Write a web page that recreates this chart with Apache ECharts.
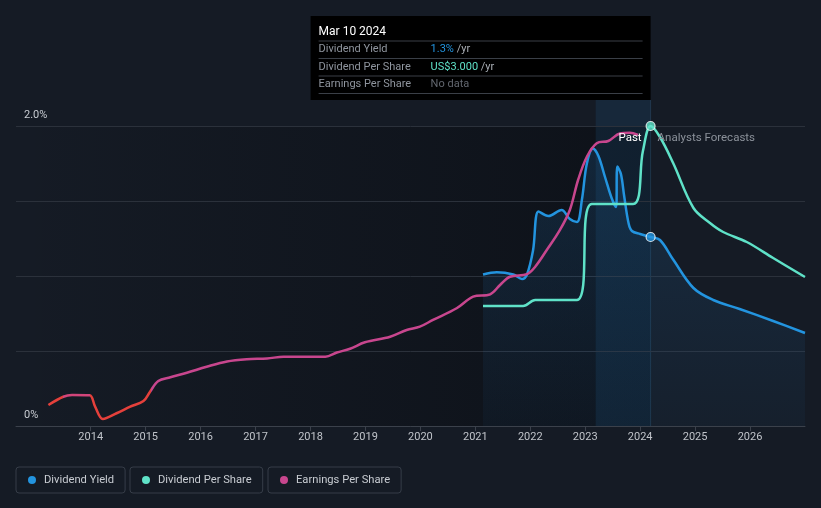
<!DOCTYPE html>
<html>
<head>
<meta charset="utf-8">
<script src="https://cdn.jsdelivr.net/npm/echarts@6/dist/echarts.min.js"></script>
<style>
html,body{margin:0;padding:0;background:#151b25;}
#c{width:821px;height:508px;}
</style>
</head>
<body>
<div id="c"></div>
<script>
// ---- data (decimal years) ----
const yearTicks = [2014,2015,2016,2017,2018,2019,2020,2021,2022,2023,2024,2025,2026];
const dividendYield = [[2021.14,1.01],[2021.39,1.025],[2021.69,1.01],[2021.85,0.98],[2021.94,1.01],[2022.05,1.17],[2022.15,1.43],[2022.33,1.40],[2022.57,1.44],[2022.72,1.38],[2022.85,1.36],[2022.94,1.51],[2023.03,1.75],[2023.14,1.85],[2023.24,1.80],[2023.36,1.66],[2023.48,1.52],[2023.56,1.46],[2023.585,1.73],[2023.65,1.68],[2023.71,1.53],[2023.79,1.35],[2023.85,1.30],[2024.0,1.28],[2024.19,1.26],[2024.36,1.24],[2024.60,1.11],[2024.97,0.92],[2025.33,0.84],[2025.81,0.78],[2026.42,0.70],[2027.0,0.62]];
const dividendPerShare = [[2021.14,1.20],[2021.87,1.20],[2022.09,1.26],[2022.85,1.26],[2023.12,2.22],[2023.87,2.22],[2024.05,2.75],[2024.19,3.0],[2024.36,2.89],[2024.60,2.63],[2024.97,2.18],[2025.27,2.03],[2025.51,1.94],[2025.94,1.84],[2026.42,1.68],[2027.0,1.49]];
const earningsPerShare = [[2013.23,0.14],[2013.50,0.195],[2013.66,0.207],[2013.98,0.205],[2014.08,0.129],[2014.22,0.047],[2014.47,0.085],[2014.72,0.129],[2014.96,0.167],[2015.08,0.229],[2015.23,0.30],[2015.45,0.325],[2015.75,0.355],[2016.11,0.395],[2016.48,0.43],[2016.84,0.445],[2017.21,0.45],[2017.51,0.462],[2017.93,0.462],[2018.27,0.462],[2018.48,0.49],[2018.72,0.515],[2018.99,0.558],[2019.45,0.595],[2019.75,0.64],[2019.99,0.662],[2020.23,0.707],[2020.66,0.785],[2020.96,0.862],[2021.27,0.878],[2021.45,0.94],[2021.63,0.995],[2021.94,1.013],[2022.09,1.062],[2022.30,1.173],[2022.54,1.307],[2022.72,1.44],[2022.87,1.64],[2023.03,1.795],[2023.21,1.885],[2023.42,1.90],[2023.63,1.95],[2023.81,1.955],[2023.96,1.94]];
const hoverYear = 2024.19;
const bandStart = 2023.19;
const tipDate = 'Mar 10 2024';
const tipYield = '1.3%';
const tipDps = 'US$3.000';

const C_YIELD = '#2394df', C_DPS = '#5fe2c8', C_EPS = '#c8468e', C_RED = '#e5403b';
const FONT = 'Roboto, "Noto Sans", sans-serif';

const chart = echarts.init(document.getElementById('c'), null, {renderer:'canvas'});
const legendBase = {
  orient:'horizontal', top:467, icon:'circle', itemWidth:8, itemHeight:8, itemGap:0,
  padding:[6,11,6,12], borderColor:'#363d48', borderWidth:1, borderRadius:3,
  selectedMode:false,
  textStyle:{color:'#c8ccd2', fontSize:11.2, fontFamily:FONT, lineHeight:14, padding:[0,0,0,3]}
};
chart.setOption({
  backgroundColor:'#151b25',
  animation:false,
  grid:{left:16, right:16, top:126, bottom:82, containLabel:false},
  xAxis:{type:'value', min:2012.64, max:2027.0,
    axisLine:{lineStyle:{color:'#3b414b'}},
    axisTick:{show:true, customValues:yearTicks, length:5, lineStyle:{color:'#3b414b'}},
    axisLabel:{customValues:yearTicks, color:'#c0c4ca', fontSize:11, fontFamily:FONT, margin:6, formatter:v=>String(Math.round(v))},
    splitLine:{show:false}},
  yAxis:[
    {type:'value', min:0, max:2, interval:0.5,
      axisLine:{show:false}, axisTick:{show:false},
      splitLine:{lineStyle:{color:'#2b313b', width:1}},
      axisLabel:{inside:true, margin:8, verticalAlign:'bottom', padding:[0,0,5,0], color:'#c8ccd2', fontSize:11, fontFamily:FONT,
        formatter:v=> v===0 ? '0%' : (Math.abs(v-2)<1e-9 ? '2.0%' : '')}},
    {type:'value', min:0, max:3, show:false},
    {type:'value', min:0, max:2, show:false}
  ],
  legend:[
    Object.assign({}, legendBase, {left:16, data:['Dividend Yield']}),
    Object.assign({}, legendBase, {left:130, data:['Dividend Per Share']}),
    Object.assign({}, legendBase, {left:268, data:['Earnings Per Share']})
  ],
  visualMap:{show:false, type:'piecewise', seriesIndex:2, dimension:0,
    pieces:[{lt:2013.5, color:C_RED},{gte:2013.5, lt:2013.98, color:'#d2457a'},{gte:2013.98, lt:2015.1, color:C_RED},{gte:2015.1, color:C_EPS}]},
  series:[
    {name:'Dividend Yield', type:'line', yAxisIndex:0, data:dividendYield, smooth:0.35, symbol:'none', clip:false,
      lineStyle:{color:C_YIELD, width:2.5}, itemStyle:{color:C_YIELD},
      areaStyle:{color:new echarts.graphic.LinearGradient(0,0,0,1,[{offset:0,color:'rgba(36,120,190,0.28)'},{offset:1,color:'rgba(36,120,190,0.07)'}])}, z:3},
    {name:'Dividend Per Share', type:'line', yAxisIndex:1, data:dividendPerShare, smooth:0.35, symbol:'none', clip:false,
      lineStyle:{color:C_DPS, width:2.5}, itemStyle:{color:C_DPS}, z:4},
    {name:'Earnings Per Share', type:'line', yAxisIndex:2, data:earningsPerShare, smooth:0.35, symbol:'none', clip:false,
      lineStyle:{width:2.5}, itemStyle:{color:C_EPS}, z:3},
    {type:'scatter', yAxisIndex:0, data:[[hoverYear, dividendYield.find(d=>d[0]===hoverYear)[1]]], symbolSize:9, clip:false,
      itemStyle:{color:C_YIELD, borderColor:'#ffffff', borderWidth:1.2}, z:6, silent:true},
    {type:'scatter', yAxisIndex:1, data:[[hoverYear, dividendPerShare.find(d=>d[0]===hoverYear)[1]]], symbolSize:9, clip:false,
      itemStyle:{color:C_DPS, borderColor:'#ffffff', borderWidth:1.2}, z:6, silent:true}
  ]
});

// overlays positioned through the axes
const px = v => chart.convertToPixel({xAxisIndex:0}, v);
const py = v => chart.convertToPixel({yAxisIndex:0}, v);
const xLeft = px(2012.64), xHover = px(hoverYear), xBand = px(bandStart);
const yTop = py(2), yBot = py(0);
const tipTop = 16, tipBottom = 100, tipW = 340;
const tipL = xHover - tipW;
const rowY = [31.5, 49.5, 67, 84.5];
const sepY = [41, 58.5, 76, 93.5];
const g = [];
g.push({type:'rect', z:-10, silent:true, shape:{x:xLeft, y:yTop, width:xHover-xLeft, height:yBot-yTop},
  style:{fill:new echarts.graphic.LinearGradient(0,0,1,0,[{offset:0,color:'rgba(4,6,10,0)'},{offset:1,color:'rgba(4,6,10,0.45)'}])}});
g.push({type:'rect', z:-5, silent:true, shape:{x:xBand, y:tipBottom, width:xHover-xBand, height:yBot-tipBottom},
  style:{fill:'rgba(35,130,200,0.13)'}});
g.push({type:'line', z:-4, silent:true, shape:{x1:xHover, y1:tipBottom, x2:xHover, y2:yBot},
  style:{stroke:'rgba(60,110,150,0.3)', lineWidth:1}});
g.push({type:'text', z:10, silent:true, style:{x:xHover-9, y:yTop+12.5, text:'Past', fill:'#ffffff', font:'11.5px '+FONT, textAlign:'right', textVerticalAlign:'middle'}});
g.push({type:'text', z:10, silent:true, style:{x:xHover+7, y:yTop+12.5, text:'Analysts Forecasts', fill:'#8b919a', font:'11.5px '+FONT, textAlign:'left', textVerticalAlign:'middle'}});
// tooltip box
g.push({type:'rect', z:20, silent:true, shape:{x:tipL, y:tipTop, width:tipW, height:tipBottom-tipTop}, style:{fill:'#000000'}});
sepY.forEach(y=>g.push({type:'line', z:21, silent:true, shape:{x1:tipL+8, y1:y, x2:xHover-8, y2:y}, style:{stroke:'#3a3f47', lineWidth:1}}));
g.push({type:'text', z:22, silent:true, style:{x:tipL+8, y:rowY[0], text:tipDate, fill:'#ffffff', font:'12px '+FONT, textVerticalAlign:'middle'}});
const labels = ['Dividend Yield','Dividend Per Share','Earnings Per Share'];
labels.forEach((t,i)=>g.push({type:'text', z:22, silent:true, style:{x:tipL+8, y:rowY[i+1], text:t, fill:'#8f959e', font:'11px '+FONT, textVerticalAlign:'middle'}}));
const vx = tipL + 120;
g.push({type:'text', z:22, silent:true, style:{x:vx, y:rowY[1], text:'{v|'+tipYield+'}{u| /yr}', textVerticalAlign:'middle',
  rich:{v:{fill:C_YIELD, font:'11px '+FONT}, u:{fill:'#a9aeb5', font:'11px '+FONT}}}});
g.push({type:'text', z:22, silent:true, style:{x:vx, y:rowY[2], text:'{v|'+tipDps+'}{u| /yr}', textVerticalAlign:'middle',
  rich:{v:{fill:C_DPS, font:'11px '+FONT}, u:{fill:'#a9aeb5', font:'11px '+FONT}}}});
g.push({type:'text', z:22, silent:true, style:{x:vx, y:rowY[3], text:'No data', fill:'#62676f', font:'11px '+FONT, textVerticalAlign:'middle'}});
chart.setOption({graphic:{elements:g}});
</script>
</body>
</html>
